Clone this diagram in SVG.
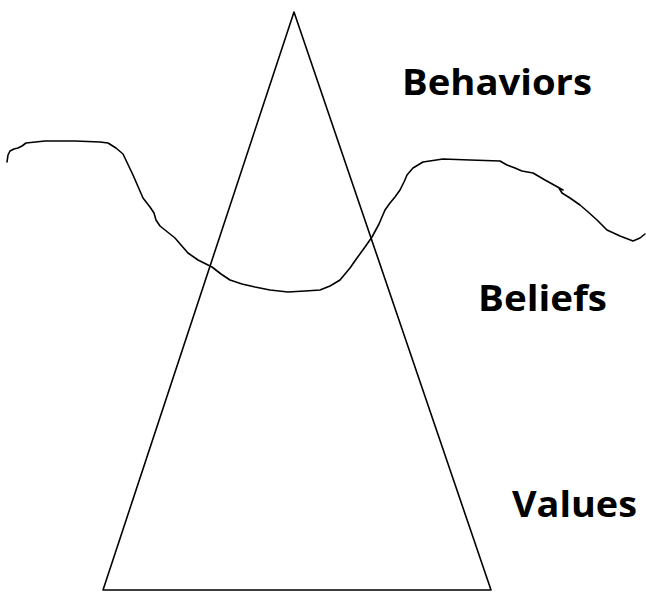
<svg xmlns="http://www.w3.org/2000/svg" width="646" height="594" viewBox="0 0 646 594">
<style>
.ln{fill:none;stroke:#000;stroke-width:1.6;stroke-linejoin:round;stroke-linecap:round}
.lbl{font-family:"Open Sans","Noto Sans",sans-serif;font-weight:bold;font-size:35px;fill:#000}
</style>
<rect width="646" height="594" fill="#fff"/>
<g id="connectors">
<polygon id="triangle" class="ln" points="294,12 103,590 491,590"/>
<polyline id="wave" class="ln" points="7,162 8,155 10,151 14,149 18,148 22,146 26,143 45,141 75,141 100,142 108,143 116,148 123,154 133,175 143,198 150,207 154,213 156,220 160,226 175,238 181,245 188,253 198,260 212,267 221,274 230,280 242,284 255,287 270,290 288,292 305,291 320,290 330,286 340,280 350,268 357,258 365,247 372,237 379,224 385,210 390,203 395,197 400,190 404,182 407,175 413,168 423,162 443,159 470,160 500,161 507,165 515,168 522,171 533,173 545,180 554,185 563,190 559,188 562,193 570,198 580,205 587,211 597,220 607,230 620,236 633,241 640,238 645,234"/>
</g>
<g id="behaviors"><text class="lbl" x="402" y="95" textLength="190" lengthAdjust="spacingAndGlyphs">Behaviors</text></g>
<g id="beliefs"><text class="lbl" x="478" y="311" textLength="129" lengthAdjust="spacingAndGlyphs">Beliefs</text></g>
<g id="values"><text class="lbl" x="512" y="517" textLength="125" lengthAdjust="spacingAndGlyphs">Values</text></g>
</svg>
